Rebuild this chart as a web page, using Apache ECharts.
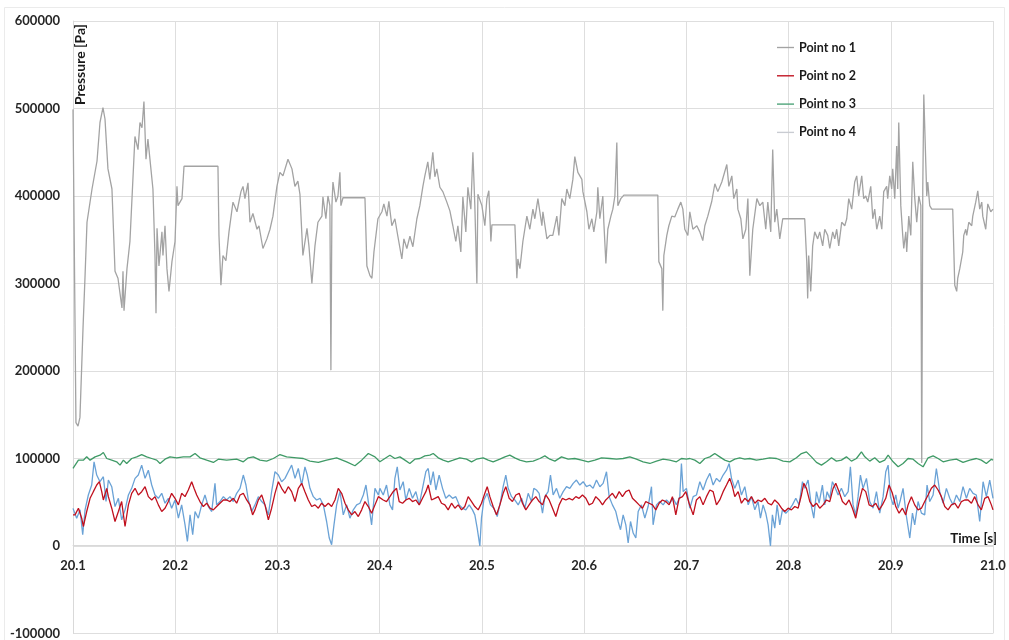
<!DOCTYPE html>
<html>
<head>
<meta charset="utf-8">
<script src="https://cdn.jsdelivr.net/npm/echarts@6/dist/echarts.min.js"></script>
<style>html,body{margin:0;padding:0;background:#fff}#c{width:1009px;height:640px}</style>
</head>
<body>
<div id="c"></div>
<script>
const seriesNames = ['Point no 1', 'Point no 2', 'Point no 3', 'Point no 4'];
const xTicks = [20.1, 20.2, 20.3, 20.4, 20.5, 20.6, 20.7, 20.8, 20.9, 21.0];
const yTicks = [-100000, 0, 100000, 200000, 300000, 400000, 500000, 600000];

// Point no 1 [time s, pressure Pa]
const point1 = [
[20.1000,499000],[20.1010,497000],[20.1029,141000],[20.1049,137000],[20.1068,147000],[20.1098,249000],[20.1117,306000],[20.1137,370000],[20.1186,408000],[20.1235,440000],[20.1264,484000],[20.1293,501000],[20.1313,488000],[20.1342,431000],[20.1381,408000],[20.1411,314000],[20.1440,306000],[20.1479,272000],[20.1489,314000],[20.1499,269000],[20.1528,317000],[20.1557,348000],[20.1606,468000],[20.1636,453000],[20.1655,484000],[20.1675,478000],[20.1694,508000],[20.1714,442000],[20.1733,465000],[20.1782,408000],[20.1802,332000],[20.1812,266000],[20.1822,363000],[20.1841,320000],[20.1870,359000],[20.1880,332000],[20.1900,366000],[20.1919,317000],[20.1939,291000],[20.1968,325000],[20.1998,348000],[20.2017,411000],[20.2027,389000],[20.2066,397000],[20.2086,434000],[20.2418,434000],[20.2428,355000],[20.2447,298000],[20.2467,332000],[20.2496,326000],[20.2526,359000],[20.2565,393000],[20.2604,382000],[20.2643,405000],[20.2663,411000],[20.2682,397000],[20.2712,415000],[20.2731,370000],[20.2760,380000],[20.2800,362000],[20.2819,366000],[20.2858,340000],[20.2897,351000],[20.2927,362000],[20.2956,377000],[20.2995,411000],[20.3024,427000],[20.3054,423000],[20.3103,442000],[20.3142,431000],[20.3171,411000],[20.3200,417000],[20.3220,402000],[20.3249,332000],[20.3289,363000],[20.3308,343000],[20.3337,300000],[20.3367,343000],[20.3396,370000],[20.3435,377000],[20.3445,399000],[20.3474,374000],[20.3494,400000],[20.3513,389000],[20.3523,201000],[20.3533,389000],[20.3543,416000],[20.3572,393000],[20.3592,400000],[20.3611,427000],[20.3621,389000],[20.3641,398000],[20.3856,398000],[20.3875,320000],[20.3905,309000],[20.3924,306000],[20.3944,336000],[20.3983,374000],[20.4022,382000],[20.4041,391000],[20.4071,377000],[20.4090,394000],[20.4119,366000],[20.4149,374000],[20.4178,354000],[20.4217,328000],[20.4237,351000],[20.4266,340000],[20.4296,354000],[20.4325,342000],[20.4364,374000],[20.4393,389000],[20.4423,411000],[20.4442,423000],[20.4471,439000],[20.4491,419000],[20.4520,450000],[20.4540,422000],[20.4559,431000],[20.4589,410000],[20.4618,405000],[20.4657,393000],[20.4687,383000],[20.4716,366000],[20.4745,348000],[20.4765,366000],[20.4794,336000],[20.4814,399000],[20.4843,359000],[20.4863,410000],[20.4892,385000],[20.4912,450000],[20.4931,389000],[20.4951,300000],[20.4961,402000],[20.5000,389000],[20.5029,366000],[20.5049,397000],[20.5068,406000],[20.5088,348000],[20.5098,367000],[20.5323,367000],[20.5342,306000],[20.5352,328000],[20.5372,317000],[20.5401,348000],[20.5440,377000],[20.5469,362000],[20.5499,385000],[20.5518,374000],[20.5548,397000],[20.5587,366000],[20.5597,382000],[20.5636,351000],[20.5665,355000],[20.5694,355000],[20.5733,377000],[20.5753,355000],[20.5782,397000],[20.5812,389000],[20.5831,408000],[20.5860,397000],[20.5890,419000],[20.5909,445000],[20.5939,427000],[20.5978,419000],[20.5988,405000],[20.6027,382000],[20.6047,362000],[20.6076,374000],[20.6095,359000],[20.6125,382000],[20.6134,410000],[20.6154,374000],[20.6183,400000],[20.6193,370000],[20.6213,323000],[20.6232,362000],[20.6262,377000],[20.6281,385000],[20.6301,400000],[20.6320,461000],[20.6330,389000],[20.6359,397000],[20.6389,401000],[20.6721,401000],[20.6731,325000],[20.6760,317000],[20.6770,269000],[20.6780,332000],[20.6809,355000],[20.6829,366000],[20.6858,377000],[20.6887,376000],[20.6917,385000],[20.6946,393000],[20.6966,385000],[20.6985,362000],[20.7015,355000],[20.7034,382000],[20.7064,362000],[20.7103,366000],[20.7132,359000],[20.7161,349000],[20.7181,366000],[20.7210,377000],[20.7249,394000],[20.7279,414000],[20.7308,405000],[20.7347,416000],[20.7396,436000],[20.7416,411000],[20.7445,423000],[20.7464,397000],[20.7494,408000],[20.7504,385000],[20.7533,374000],[20.7553,351000],[20.7582,362000],[20.7602,397000],[20.7621,309000],[20.7650,362000],[20.7690,397000],[20.7719,389000],[20.7748,393000],[20.7777,362000],[20.7797,393000],[20.7826,359000],[20.7845,453000],[20.7865,370000],[20.7885,385000],[20.7914,351000],[20.7943,374000],[20.8158,374000],[20.8178,325000],[20.8187,283000],[20.8197,332000],[20.8217,291000],[20.8236,343000],[20.8256,359000],[20.8285,351000],[20.8305,359000],[20.8334,343000],[20.8354,362000],[20.8383,355000],[20.8403,340000],[20.8432,359000],[20.8452,351000],[20.8471,362000],[20.8491,343000],[20.8520,370000],[20.8550,366000],[20.8569,374000],[20.8589,397000],[20.8618,385000],[20.8647,416000],[20.8667,423000],[20.8686,400000],[20.8716,423000],[20.8735,397000],[20.8755,400000],[20.8775,393000],[20.8804,411000],[20.8824,374000],[20.8843,385000],[20.8863,362000],[20.8892,377000],[20.8912,362000],[20.8931,405000],[20.8960,411000],[20.8970,397000],[20.8990,423000],[20.9009,408000],[20.9019,431000],[20.9039,397000],[20.9058,457000],[20.9068,408000],[20.9078,484000],[20.9098,389000],[20.9117,355000],[20.9127,340000],[20.9147,359000],[20.9156,336000],[20.9176,377000],[20.9196,355000],[20.9215,439000],[20.9235,397000],[20.9254,370000],[20.9274,400000],[20.9294,389000],[20.9303,95000],[20.9313,408000],[20.9323,516000],[20.9352,400000],[20.9362,416000],[20.9381,389000],[20.9401,385000],[20.9606,385000],[20.9626,298000],[20.9645,291000],[20.9655,306000],[20.9675,317000],[20.9704,336000],[20.9714,355000],[20.9733,362000],[20.9743,355000],[20.9763,370000],[20.9792,366000],[20.9802,377000],[20.9831,393000],[20.9851,406000],[20.9870,385000],[20.9890,393000],[20.9900,377000],[20.9929,362000],[20.9949,391000],[20.9978,382000],[21.0000,385000]
];

// Point no 2
const point2 = [
[20.1000,35600],[20.1020,35600],[20.1053,43200],[20.1085,31800],[20.1101,22300],[20.1134,39400],[20.1167,54500],[20.1199,62100],[20.1232,69700],[20.1258,73500],[20.1281,62100],[20.1297,52600],[20.1330,65900],[20.1346,56400],[20.1379,43200],[20.1411,28000],[20.1444,39400],[20.1476,50800],[20.1509,22300],[20.1542,47000],[20.1574,60200],[20.1607,65900],[20.1639,58300],[20.1672,62100],[20.1705,67800],[20.1737,56400],[20.1770,52600],[20.1802,56400],[20.1835,47000],[20.1868,39400],[20.1900,43200],[20.1933,50800],[20.1965,60200],[20.1998,54500],[20.2031,47000],[20.2063,60200],[20.2096,56400],[20.2128,64000],[20.2161,73500],[20.2184,65900],[20.2210,58300],[20.2242,50800],[20.2275,45100],[20.2308,48900],[20.2340,43200],[20.2373,41300],[20.2405,45100],[20.2438,48900],[20.2471,52600],[20.2503,52600],[20.2536,50800],[20.2568,54500],[20.2601,48900],[20.2634,58300],[20.2666,60200],[20.2699,52600],[20.2731,47000],[20.2757,35600],[20.2780,41300],[20.2813,52600],[20.2846,58300],[20.2878,47000],[20.2911,29900],[20.2943,43200],[20.2976,60200],[20.3009,73500],[20.3041,65900],[20.3074,60200],[20.3106,67800],[20.3139,62100],[20.3172,50800],[20.3204,65900],[20.3237,71600],[20.3269,62100],[20.3302,52600],[20.3335,45100],[20.3367,47000],[20.3400,43200],[20.3432,48900],[20.3465,45100],[20.3498,48900],[20.3530,45100],[20.3563,52600],[20.3595,65900],[20.3628,60200],[20.3661,48900],[20.3693,41300],[20.3726,35600],[20.3758,39400],[20.3791,33700],[20.3824,41300],[20.3856,50800],[20.3889,45100],[20.3921,37500],[20.3954,47000],[20.3987,56400],
[20.4002,54500],[20.4035,52600],[20.4067,50800],[20.4100,56400],[20.4132,62100],[20.4165,65900],[20.4191,50800],[20.4224,48900],[20.4256,52600],[20.4289,54500],[20.4321,50800],[20.4354,52600],[20.4387,47000],[20.4419,54500],[20.4452,62100],[20.4475,69700],[20.4507,52600],[20.4540,54500],[20.4573,56400],[20.4605,48900],[20.4638,47000],[20.4670,41300],[20.4703,48900],[20.4736,43200],[20.4768,47000],[20.4801,41300],[20.4833,45100],[20.4866,56400],[20.4899,50800],[20.4931,45100],[20.4964,41300],[20.4996,48900],[20.5029,60200],[20.5052,67800],[20.5078,56400],[20.5110,45100],[20.5143,35600],[20.5176,47000],[20.5208,60200],[20.5234,67800],[20.5267,54500],[20.5299,50800],[20.5332,58300],[20.5365,60200],[20.5397,48900],[20.5430,41300],[20.5462,47000],[20.5495,52600],[20.5528,56400],[20.5560,50800],[20.5593,47000],[20.5625,58300],[20.5658,52600],[20.5691,43200],[20.5723,33700],[20.5756,47000],[20.5788,54500],[20.5821,52600],[20.5854,54500],[20.5886,52600],[20.5919,56400],[20.5951,54500],[20.5984,58300],[20.6017,54500],[20.6049,47000],[20.6082,48900],[20.6114,56400],[20.6147,52600],[20.6180,47000],[20.6212,52600],[20.6245,56400],[20.6277,60200],[20.6310,54500],[20.6343,62100],[20.6375,56400],[20.6408,62100],[20.6440,64000],[20.6473,54500],[20.6506,50800],[20.6538,47000],[20.6571,43200],[20.6603,50800],[20.6636,48900],[20.6669,47000],[20.6701,41300],[20.6734,48900],[20.6766,52600],[20.6799,50800],[20.6832,47000],[20.6864,56400],[20.6897,35600],[20.6929,54500],[20.6962,56400],[20.6995,62100],[20.7027,48900],
[20.7034,47000],[20.7067,35600],[20.7099,52600],[20.7132,56400],[20.7164,47000],[20.7197,56400],[20.7230,64000],[20.7262,62100],[20.7295,47000],[20.7327,52600],[20.7360,62100],[20.7393,69700],[20.7425,77300],[20.7451,67800],[20.7474,56400],[20.7507,62100],[20.7539,48900],[20.7572,54500],[20.7605,50800],[20.7637,56400],[20.7670,48900],[20.7702,52600],[20.7735,50800],[20.7768,54500],[20.7800,48900],[20.7833,47000],[20.7865,52600],[20.7898,48900],[20.7931,43200],[20.7963,39400],[20.7996,43200],[20.8028,41300],[20.8061,45100],[20.8094,43200],[20.8126,58300],[20.8149,71600],[20.8175,65900],[20.8208,50800],[20.8240,45100],[20.8273,48900],[20.8305,43200],[20.8338,47000],[20.8371,52600],[20.8403,50800],[20.8436,65900],[20.8462,71600],[20.8494,62100],[20.8527,50800],[20.8560,47000],[20.8592,52600],[20.8625,43200],[20.8657,31800],[20.8690,50800],[20.8723,65900],[20.8755,62100],[20.8788,47000],[20.8820,45100],[20.8853,48900],[20.8886,41300],[20.8918,47000],[20.8951,54500],[20.8983,69700],[20.9016,60200],[20.9049,45100],[20.9081,37500],[20.9114,43200],[20.9146,35600],[20.9169,47000],[20.9202,56400],[20.9234,47000],[20.9267,41300],[20.9300,43200],[20.9332,50800],[20.9365,58300],[20.9397,65900],[20.9430,69700],[20.9463,64000],[20.9495,56400],[20.9528,45100],[20.9560,41300],[20.9593,47000],[20.9626,48900],[20.9658,43200],[20.9691,50800],[20.9723,52600],[20.9756,52600],[20.9789,48900],[20.9821,56400],[20.9854,47000],[20.9886,41300],[20.9919,54500],[20.9952,56400],[20.9984,47000],[21.0000,41300]
];

// Point no 3
const point3 = [
[20.1000,88600],[20.1053,98100],[20.1101,98100],[20.1134,101900],[20.1167,98100],[20.1216,101900],[20.1264,103800],[20.1297,106800],[20.1330,100000],[20.1379,98100],[20.1427,96200],[20.1460,92400],[20.1493,98100],[20.1525,94300],[20.1574,100000],[20.1623,101900],[20.1672,104500],[20.1721,101900],[20.1770,100000],[20.1819,98100],[20.1851,94300],[20.1900,99200],[20.1949,101900],[20.2014,100800],[20.2079,101900],[20.2145,101900],[20.2194,105700],[20.2242,100800],[20.2308,98100],[20.2373,95500],[20.2422,99200],[20.2503,98100],[20.2601,99200],[20.2666,96200],[20.2715,100800],[20.2764,101900],[20.2829,98100],[20.2894,97000],[20.2960,100000],[20.3025,104500],[20.3090,101900],[20.3188,100800],[20.3253,100000],[20.3318,97000],[20.3400,95500],[20.3481,98100],[20.3579,100800],[20.3677,96200],[20.3758,91700],[20.3824,98100],[20.3889,105700],[20.3954,101900],
[20.4002,96200],[20.4051,100000],[20.4100,103800],[20.4149,100000],[20.4198,101900],[20.4247,98100],[20.4295,94300],[20.4344,99200],[20.4393,100000],[20.4442,103000],[20.4491,103800],[20.4524,105700],[20.4573,100800],[20.4621,98100],[20.4670,96200],[20.4719,98100],[20.4784,100800],[20.4850,99200],[20.4899,96200],[20.4947,99200],[20.5013,100800],[20.5062,98100],[20.5110,96200],[20.5176,99200],[20.5225,101900],[20.5273,103800],[20.5322,100800],[20.5371,98100],[20.5436,96200],[20.5502,97000],[20.5567,100000],[20.5616,103000],[20.5665,99200],[20.5714,97000],[20.5779,101900],[20.5844,99200],[20.5909,100000],[20.5975,98100],[20.6040,96200],[20.6105,98100],[20.6170,100800],[20.6251,100000],[20.6317,99200],[20.6382,100000],[20.6447,101900],[20.6512,99200],[20.6577,96200],[20.6643,94300],[20.6708,97000],[20.6773,99200],[20.6838,98100],[20.6903,96200],[20.6952,100000],[20.7001,99200],
[20.7034,100000],[20.7083,98100],[20.7132,94300],[20.7181,100000],[20.7230,101900],[20.7278,105700],[20.7327,101900],[20.7376,98100],[20.7425,96200],[20.7474,99200],[20.7523,100800],[20.7572,99200],[20.7621,100000],[20.7686,98100],[20.7751,99200],[20.7816,100800],[20.7882,100000],[20.7947,97000],[20.8012,96200],[20.8077,100800],[20.8126,105700],[20.8175,107600],[20.8224,101900],[20.8273,95500],[20.8322,92400],[20.8371,96200],[20.8420,100800],[20.8468,97000],[20.8517,98100],[20.8566,101900],[20.8615,97000],[20.8664,100000],[20.8713,107600],[20.8746,101900],[20.8794,97000],[20.8843,100800],[20.8892,95500],[20.8941,98100],[20.8974,103800],[20.9023,96200],[20.9072,90500],[20.9120,94300],[20.9169,100000],[20.9218,99200],[20.9267,94300],[20.9316,90500],[20.9365,100800],[20.9414,103000],[20.9463,100000],[20.9512,96200],[20.9577,98100],[20.9642,99200],[20.9707,95500],[20.9772,98100],[20.9837,100000],[20.9886,98100],[20.9935,94300],[20.9984,99200],[21.0000,98100]
];

// Point no 4
const point4 = [
[20.1000,43000],[20.1036,31800],[20.1069,41300],[20.1095,12900],[20.1118,41300],[20.1150,58300],[20.1183,69700],[20.1206,96200],[20.1232,81100],[20.1264,73500],[20.1297,79200],[20.1323,50800],[20.1346,75400],[20.1379,67800],[20.1411,45100],[20.1444,54500],[20.1476,29900],[20.1509,41300],[20.1542,58300],[20.1574,65900],[20.1607,77300],[20.1639,81100],[20.1672,92400],[20.1705,77300],[20.1737,86700],[20.1770,69700],[20.1802,58300],[20.1835,54500],[20.1868,60200],[20.1900,48900],[20.1933,54500],[20.1965,43200],[20.1998,52600],[20.2031,31800],[20.2063,47000],[20.2096,24200],[20.2119,5300],[20.2145,35600],[20.2171,12900],[20.2194,39400],[20.2226,31800],[20.2259,47000],[20.2291,58300],[20.2324,45100],[20.2357,39400],[20.2389,71600],[20.2405,47000],[20.2438,50800],[20.2471,56400],[20.2503,52600],[20.2536,56400],[20.2568,50800],[20.2601,60200],[20.2634,65900],[20.2666,81100],[20.2692,69700],[20.2715,52600],[20.2748,39400],[20.2780,47000],[20.2813,56400],[20.2846,50800],[20.2878,47000],[20.2911,35600],[20.2943,62100],[20.2976,84900],[20.3009,81100],[20.3041,73500],[20.3074,77300],[20.3106,84900],[20.3139,92400],[20.3172,77300],[20.3204,88600],[20.3237,69700],[20.3269,90500],[20.3292,81100],[20.3318,65900],[20.3351,56400],[20.3383,52600],[20.3416,54500],[20.3449,47000],[20.3481,28000],[20.3507,9100],[20.3530,1500],[20.3553,24200],[20.3579,47000],[20.3612,62100],[20.3644,35600],[20.3677,47000],[20.3709,31800],[20.3742,41300],[20.3775,47000],[20.3807,48900],[20.3840,58300],[20.3866,69700],[20.3889,50800],[20.3921,24200],[20.3954,65900],[20.3987,58300],
[20.4002,65900],[20.4035,58300],[20.4067,69700],[20.4100,47000],[20.4126,41300],[20.4149,77300],[20.4172,90500],[20.4198,64000],[20.4230,73500],[20.4256,52600],[20.4289,65900],[20.4321,54500],[20.4354,62100],[20.4387,47000],[20.4419,65900],[20.4452,84900],[20.4475,88600],[20.4498,69700],[20.4524,84900],[20.4550,64000],[20.4582,81100],[20.4615,65900],[20.4647,54500],[20.4680,58300],[20.4713,54500],[20.4745,56400],[20.4778,47000],[20.4810,43200],[20.4843,41300],[20.4876,47000],[20.4908,41300],[20.4931,35600],[20.4954,20500],[20.4980,0],[20.4996,31800],[20.5019,52600],[20.5052,60200],[20.5084,47000],[20.5117,43200],[20.5150,33700],[20.5182,50800],[20.5208,67800],[20.5234,81100],[20.5257,65900],[20.5290,56400],[20.5322,52600],[20.5355,47000],[20.5388,54500],[20.5420,43200],[20.5453,60200],[20.5485,50800],[20.5508,65900],[20.5534,64000],[20.5560,60200],[20.5593,37500],[20.5616,56400],[20.5648,62100],[20.5671,81100],[20.5697,58300],[20.5730,65900],[20.5762,54500],[20.5795,62100],[20.5828,67800],[20.5860,65900],[20.5893,71600],[20.5925,75400],[20.5958,69700],[20.5991,73500],[20.6023,67800],[20.6056,69700],[20.6088,65900],[20.6121,75400],[20.6154,67800],[20.6186,71600],[20.6219,84900],[20.6245,56400],[20.6277,47000],[20.6310,39400],[20.6333,28000],[20.6356,18600],[20.6382,35600],[20.6408,24200],[20.6431,3400],[20.6454,28000],[20.6480,14800],[20.6506,9100],[20.6529,39400],[20.6561,47000],[20.6594,31800],[20.6626,45100],[20.6659,67800],[20.6675,24200],[20.6708,47000],[20.6740,50800],[20.6773,47000],[20.6806,52600],[20.6838,48900],[20.6871,54500],[20.6903,47000],[20.6936,56400],[20.6952,94300],[20.6969,62100],[20.7001,65900],
[20.7034,43200],[20.7067,56400],[20.7099,58300],[20.7132,73500],[20.7164,64000],[20.7197,75400],[20.7230,83000],[20.7262,69700],[20.7295,77300],[20.7327,73500],[20.7360,81100],[20.7393,86700],[20.7419,94300],[20.7442,77300],[20.7474,65900],[20.7507,75400],[20.7539,58300],[20.7572,67800],[20.7605,47000],[20.7637,56400],[20.7670,41300],[20.7702,50800],[20.7725,31800],[20.7751,47000],[20.7777,37500],[20.7800,24200],[20.7823,0],[20.7842,35600],[20.7865,20500],[20.7888,47000],[20.7914,24200],[20.7940,41300],[20.7973,37500],[20.8005,41300],[20.8038,47000],[20.8071,54500],[20.8103,47000],[20.8136,73500],[20.8159,65900],[20.8191,75400],[20.8224,45100],[20.8247,31800],[20.8273,62100],[20.8299,48900],[20.8331,69700],[20.8354,47000],[20.8377,62100],[20.8403,54500],[20.8429,73500],[20.8452,67800],[20.8485,58300],[20.8517,65900],[20.8550,56400],[20.8583,62100],[20.8605,90500],[20.8631,47000],[20.8657,35600],[20.8680,56400],[20.8703,81100],[20.8729,65900],[20.8762,77300],[20.8794,50800],[20.8827,43200],[20.8860,62100],[20.8892,37500],[20.8925,56400],[20.8951,84900],[20.8974,92400],[20.8997,56400],[20.9023,47000],[20.9049,58300],[20.9072,43200],[20.9094,52600],[20.9120,65900],[20.9153,33700],[20.9186,9100],[20.9212,37500],[20.9234,24200],[20.9267,50800],[20.9300,37500],[20.9332,35600],[20.9355,69700],[20.9381,50800],[20.9414,58300],[20.9446,88600],[20.9479,62100],[20.9512,48900],[20.9544,65900],[20.9577,54500],[20.9609,47000],[20.9642,58300],[20.9675,50800],[20.9707,67800],[20.9740,54500],[20.9772,65900],[20.9805,60200],[20.9837,58300],[20.9870,28000],[20.9903,73500],[20.9935,56400],[20.9968,75400],[21.0000,54500]
];

const colors = {
  'Point no 1': '#a3a3a3',
  'Point no 2': '#c0101e',
  'Point no 3': '#3f9a66',
  'Point no 4': '#6aa2d6'
};
const legendIconColors = {
  'Point no 1': '#a3a3a3',
  'Point no 2': '#c0101e',
  'Point no 3': '#4aa176',
  'Point no 4': '#c9ccd2'
};
const dataByName = {
  'Point no 1': point1,
  'Point no 2': point2,
  'Point no 3': point3,
  'Point no 4': point4
};
const drawOrder = ['Point no 1', 'Point no 3', 'Point no 4', 'Point no 2'];
const FONT = 'Lato, "Open Sans", sans-serif';

const GRID_TOP = 21, GRID_BOTTOM = 3, H = 640;
// distance in px from the grid bottom (y = min) up to the y = 0 line
const zeroOffset = (H - GRID_TOP - GRID_BOTTOM) * (0 - yTicks[0]) / (yTicks[yTicks.length - 1] - yTicks[0]);

const chart = echarts.init(document.getElementById('c'), null, {renderer: 'canvas'});
chart.setOption({
  animation: false,
  backgroundColor: '#ffffff',
  textStyle: {fontFamily: FONT},
  grid: {left: 73, right: 16, top: GRID_TOP, bottom: GRID_BOTTOM, containLabel: false},
  legend: {
    orient: 'vertical',
    left: 772,
    top: 36,
    itemWidth: 17,
    itemHeight: 14,
    itemGap: 15.3,
    icon: 'path://M0,0 L20,0 L20,1.6 L0,1.6 Z',
    textStyle: {fontFamily: FONT, fontWeight: 'bold', fontSize: 12.5, color: '#1a1a1a'},
    data: seriesNames.map(n => ({name: n, itemStyle: {color: legendIconColors[n]}}))
  },
  xAxis: {
    type: 'value',
    position: 'bottom',
    offset: -zeroOffset,
    min: xTicks[0],
    max: xTicks[xTicks.length - 1],
    interval: 0.1,
    axisLine: {onZero: false, lineStyle: {color: '#d9d9d9', width: 1}},
    axisTick: {show: false},
    axisLabel: {
      margin: 14,
      fontFamily: FONT, fontWeight: 'bold', fontSize: 13, color: '#262626',
      formatter: v => {
        const r = Math.round(v * 10) / 10;
        return xTicks.some(t => Math.abs(t - r) < 1e-6) ? r.toFixed(1) : '';
      }
    },
    splitLine: {show: true, lineStyle: {color: '#dedede', width: 1}}
  },
  yAxis: {
    type: 'value',
    min: yTicks[0],
    max: yTicks[yTicks.length - 1],
    interval: 100000,
    axisLine: {show: true, onZero: false, lineStyle: {color: '#d9d9d9', width: 1}},
    axisTick: {show: false},
    axisLabel: {margin: 13, fontFamily: FONT, fontWeight: 'bold', fontSize: 13, color: '#262626',
      formatter: v => String(Math.round(v))},
    splitLine: {show: true, lineStyle: {color: '#dedede', width: 1}}
  },
  graphic: [
    {type: 'rect', silent: true, z: -10, shape: {x: 4.5, y: 7.5, width: 1000, height: 640},
     style: {fill: 'none', stroke: '#ebebeb', lineWidth: 1}},
    {type: 'text', left: 73, top: 24, rotation: Math.PI / 2, silent: true,
     style: {text: 'Pressure [Pa]', fontFamily: FONT, fontWeight: 'bold', fontSize: 14, fill: '#1a1a1a'}},
    {type: 'text', right: 12, top: 532, silent: true,
     style: {text: 'Time [s]', fontFamily: FONT, fontWeight: 'bold', fontSize: 13.5, fill: '#1a1a1a'}}
  ],
  series: drawOrder.map(n => ({
    name: n,
    type: 'line',
    data: dataByName[n],
    showSymbol: false,
    symbol: 'none',
    sampling: null,
    lineStyle: {color: colors[n], width: n === 'Point no 1' ? 1.3 : 1.3},
    itemStyle: {color: colors[n]},
    emphasis: {disabled: true}
  }))
});
</script>
</body>
</html>
